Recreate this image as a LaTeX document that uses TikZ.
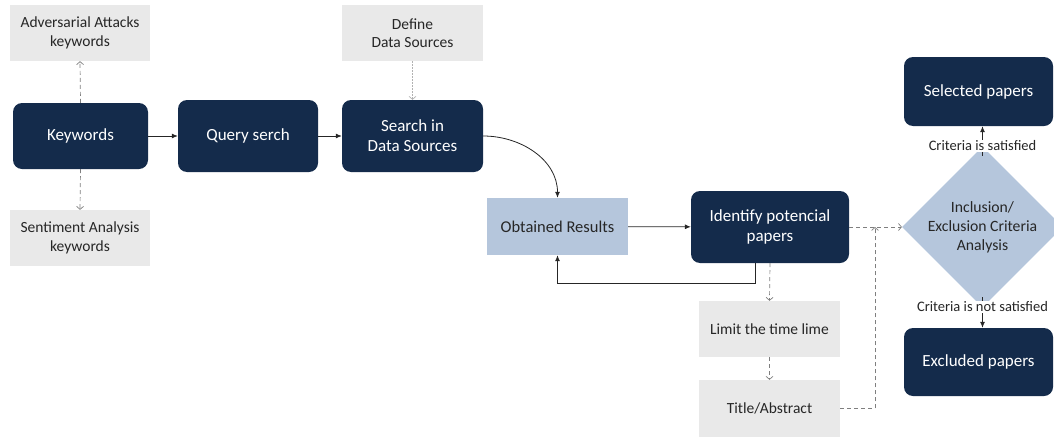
\documentclass[tikz,border=0pt]{standalone}
\usepackage{fontspec}
\setmainfont{Carlito}
\usetikzlibrary{arrows.meta,shapes.geometric}
\definecolor{navy}{HTML}{142B4B}
\definecolor{paleg}{HTML}{E9E9E9}
\definecolor{paleb}{HTML}{B5C6DC}
\definecolor{linkg}{HTML}{7F7F7F}
\tikzset{
  darkbox/.style={draw=none,fill=navy,rounded corners=9pt,text=white,align=center,
    font=\fontsize{17}{20}\selectfont},
  greybox/.style={draw=none,fill=paleg,align=center,text=black!85,
    font=\fontsize{15.5}{18.5}\selectfont},
  bluebox/.style={draw=none,fill=paleb,align=center,text=black!85,
    font=\fontsize{16.5}{20}\selectfont},
  solidlink/.style={draw=black!85,line width=0.8pt,-{Latex[length=6pt,width=5pt]}},
  dashlink/.style={draw=linkg,dashed,dash pattern=on 4pt off 3pt,line width=0.7pt,
    -{Straight Barb[length=3pt,width=7pt]}},
  dotlink/.style={draw=linkg!60,dash pattern=on 1.5pt off 1.5pt,line width=0.7pt,
    -{Straight Barb[length=3pt,width=7pt]}},
  critlabel/.style={font=\fontsize{14.5}{17}\selectfont,text=black!85,fill=white,inner sep=1pt}
}
\begin{document}
\begin{tikzpicture}[x=1pt,y=-1pt]
\useasboundingbox (0,0) rectangle (1054,439);
% left column
\node[greybox,minimum width=140pt,minimum height=56pt] (adv) at (80,33) {Adversarial Attacks\\keywords};
\node[darkbox,minimum width=135pt,minimum height=66pt] (kw) at (80.5,136) {Keywords};
\node[greybox,minimum width=140pt,minimum height=56pt] (sent) at (80,238) {Sentiment Analysis\\keywords};
% query and search
\node[darkbox,minimum width=140pt,minimum height=72pt] (query) at (248,136) {Query serch};
\node[darkbox,minimum width=141pt,minimum height=72pt] (search) at (412.5,136) {Search in\\Data Sources};
\node[greybox,minimum width=141pt,minimum height=56pt] (define) at (412.5,33) {Define\\Data Sources};
% results and identification
\node[bluebox,minimum width=141pt,minimum height=57pt] (results) at (557.5,226.5) {Obtained Results};
\node[darkbox,minimum width=158pt,minimum height=72pt] (ident) at (770,227) {Identify potencial\\papers};
\node[greybox,minimum width=141pt,minimum height=56pt] (limit) at (769.5,329) {Limit the time lime};
\node[greybox,minimum width=141pt,minimum height=57pt] (title) at (769.5,408.5) {Title/Abstract};
% decision
\node[diamond,fill=paleb,draw=none,minimum width=139pt,minimum height=116pt,inner sep=0pt,
  align=center,text=black!85,font=\fontsize{15.7}{19}\selectfont] (crit) at (982.5,227) {Inclusion/\\Exclusion Criteria\\Analysis};
\node[darkbox,minimum width=149pt,minimum height=69pt] (sel) at (978.5,91.5) {Selected papers};
\node[darkbox,minimum width=149pt,minimum height=68pt] (exc) at (978.5,362) {Excluded papers};
\coordinate (join) at (875,227);

% keyword branches
\draw[dashlink] (kw.north) -- (adv.south);
\draw[dashlink] (kw.south) -- (sent.north);
% main flow
\draw[solidlink] (kw) -- (query);
\draw[solidlink] (query) -- (search);
\draw[dotlink] (define) -- (search);
\draw[solidlink] (search.east) to[out=0,in=90] (results.north);
\draw[solidlink] (results) -- (ident);
\draw[solidlink] (ident.south -| 755,0) -- (755,283) -| (results.south);
% filtering steps
\draw[dashlink] (ident.south) -- (limit.north);
\draw[dashlink] (limit) -- (title);
\draw[dashlink] (ident.east) -- (crit.west);
\draw[dashlink] (title.east) -| (join);
% decision outcomes
\draw[draw=black!85,line width=0.8pt] (crit.north) -- (982.5,156);
\node[critlabel] (satl) at (982.5,146) {Criteria is satisfied};
\draw[solidlink] (satl.north) -- (sel.south -| crit.north);
\draw[draw=black!85,line width=0.8pt] (crit.south) -- (982.5,297);
\node[critlabel] (notl) at (982.5,307) {Criteria is not satisfied};
\draw[solidlink] (notl.south) -- (exc.north -| crit.south);
\end{tikzpicture}
\end{document}
